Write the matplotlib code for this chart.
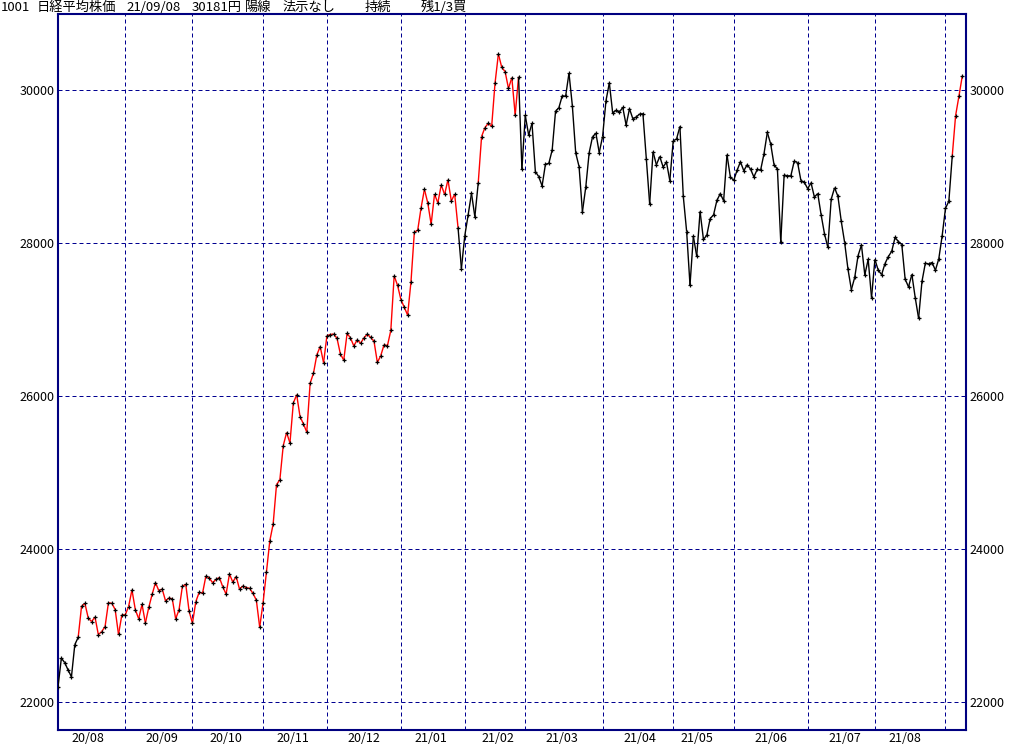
import matplotlib
matplotlib.use('Agg')
import matplotlib.pyplot as plt
from matplotlib.collections import LineCollection
import numpy as np
import pandas as pd

plt.rcParams['font.family'] = ['Noto Sans CJK JP', 'DejaVu Sans']

# 日経平均 終値 (月ごと)
close_2020_08 = [22195, 22573, 22514, 22418, 22329, 22750, 22843, 23249, 23289, 23096,
                 23051, 23110, 22880, 22920, 22985, 23296, 23290, 23208, 22882, 23139]
close_2020_09 = [23138, 23247, 23465, 23205, 23089, 23274, 23032, 23235, 23406, 23559,
                 23454, 23475, 23319, 23360, 23346, 23087, 23204, 23511, 23539, 23185]
close_2020_10 = [23029, 23312, 23433, 23422, 23647, 23619, 23558, 23601, 23626, 23507,
                 23410, 23671, 23567, 23639, 23474, 23516, 23494, 23485, 23418, 23331, 22977]
close_2020_11 = [23295, 23695, 24105, 24325, 24839, 24905, 25349, 25520, 25385, 25906,
                 26014, 25728, 25634, 25527, 26165, 26296, 26537, 26644, 26433]
close_2020_12 = [26787, 26800, 26809, 26751, 26547, 26467, 26817, 26756, 26652, 26732,
                 26687, 26757, 26806, 26763, 26714, 26436, 26524, 26668, 26656, 26854,
                 27568, 27444]
close_2021_01 = [27258, 27158, 27055, 27490, 28139, 28164, 28456, 28698, 28519, 28242,
                 28633, 28523, 28756, 28631, 28822, 28546, 28635, 28197, 27663]
close_2021_02 = [28091, 28362, 28646, 28341, 28779, 29388, 29505, 29562, 29520, 30084,
                 30467, 30292, 30236, 30017, 30156, 29671, 30168, 28966]
close_2021_03 = [29663, 29408, 29559, 28930, 28864, 28743, 29027, 29036, 29211, 29717,
                 29766, 29921, 29914, 30216, 29792, 29174, 28995, 28405, 28729, 29176,
                 29384, 29432, 29178]
close_2021_04 = [29388, 29854, 30089, 29696, 29730, 29708, 29768, 29538, 29751, 29620,
                 29642, 29683, 29685, 29100, 28508, 29188, 29020, 29126, 28991, 29053, 28812]
close_2021_05 = [29331, 29357, 29518, 28608, 28147, 27448, 28084, 27824, 28406, 28044,
                 28098, 28317, 28364, 28553, 28642, 28549, 29149, 28860]
close_2021_06 = [28814, 28946, 29058, 28941, 29019, 28963, 28860, 28958, 28948, 29161,
                 29441, 29291, 29018, 28964, 28010, 28884, 28874, 28875, 29066, 29048,
                 28812, 28791]
close_2021_07 = [28707, 28783, 28598, 28643, 28366, 28118, 27940, 28569, 28718, 28608,
                 28279, 28003, 27652, 27388, 27548, 27833, 27970, 27581, 27782, 27283]
close_2021_08 = [27781, 27641, 27584, 27728, 27820, 27888, 28070, 28015, 27977, 27523,
                 27424, 27585, 27281, 27013, 27494, 27732, 27724, 27742, 27641, 27789, 28089]
close_2021_09 = [28451, 28543, 29128, 29659, 29916, 30181]

closes = (close_2020_08 + close_2020_09 + close_2020_10 + close_2020_11 + close_2020_12
          + close_2021_01 + close_2021_02 + close_2021_03 + close_2021_04 + close_2021_05
          + close_2021_06 + close_2021_07 + close_2021_08 + close_2021_09)

# 休場日 (10/1 はシステム障害で終日売買停止)
holidays = ['2020-08-10', '2020-09-21', '2020-09-22', '2020-10-01', '2020-11-03',
            '2020-11-23', '2020-12-31', '2021-01-01', '2021-01-11', '2021-02-11',
            '2021-02-23', '2021-04-29', '2021-05-03', '2021-05-04', '2021-05-05',
            '2021-07-22', '2021-07-23', '2021-08-09']

# 持続(保有)期間 -> 赤線
hold_periods = [('2020-08-12', '2021-01-28'),
                ('2021-02-05', '2021-02-25'),
                ('2021-09-03', '2021-09-08')]

y_ticks = [22000, 24000, 26000, 28000, 30000]
title_parts = ['1001', '日経平均株価', '21/09/08', '30181円', '陽線', '法示なし', '持続', '残1/3買']

dates = pd.bdate_range('2020-08-03', '2021-09-08', freq='C', holidays=holidays)
x = np.arange(len(dates))
y = np.array(closes)

# 月の区切りと月ラベル(16日以降の最初の営業日)
month_starts = [i for i in range(1, len(dates)) if dates[i].month != dates[i - 1].month]
label_pos, label_txt = [], []
for i in range(len(dates)):
    d = dates[i]
    if d.day >= 16 and (i == 0 or dates[i - 1].day < 16 or dates[i - 1].month != d.month):
        label_pos.append(i)
        label_txt.append(d.strftime('%y/%m'))

fig = plt.figure(figsize=(10.24, 7.45), dpi=100)
ax = fig.add_axes([58 / 1024, (745 - 730) / 745, 908 / 1024, 716 / 745])

navy = '#000090'

# 線分ごとの色
segs, cols = [], []
for i in range(len(x) - 1):
    red = False
    for s, e in hold_periods:
        if dates[i] >= pd.Timestamp(s) and dates[i + 1] <= pd.Timestamp(e):
            red = True
    segs.append([(x[i], y[i]), (x[i + 1], y[i + 1])])
    cols.append('#ff0000' if red else 'black')

ax.add_collection(LineCollection(segs, colors=cols, linewidths=1.0, zorder=3))
ax.plot(x, y, ls='none', marker='+', color='black', ms=3.5, mew=0.9, zorder=4)

ax.set_xlim(0, 270.1)
ax.set_ylim(21634, 30989)

ax.set_xticks(month_starts)
ax.set_xticklabels([])
ax.set_xticks(label_pos, minor=True)
ax.set_xticklabels(label_txt, minor=True)
ax.set_yticks(y_ticks)
ax.set_yticklabels([str(v) for v in y_ticks])

ax.grid(True, which='major', color=navy, lw=0.72, ls=(0, (4, 3)), snap=True)
ax.tick_params(axis='both', which='both', length=0, labelsize=9, colors='black')
ax.tick_params(axis='y', labelleft=True, labelright=True, pad=2.5)
ax.tick_params(axis='x', which='minor', pad=1.5)

for sp in ax.spines.values():
    sp.set_color('#000080')
    sp.set_linewidth(1.5)

# 上部のタイトル
title_x = [1, 37, 126, 192, 245, 283, 365, 421]
for t, px in zip(title_parts, title_x):
    fig.text(px / 1024, 1 - 7.5 / 745, t, fontsize=9.5, ha='left', va='center')

fig.savefig('out.png', dpi=100)
